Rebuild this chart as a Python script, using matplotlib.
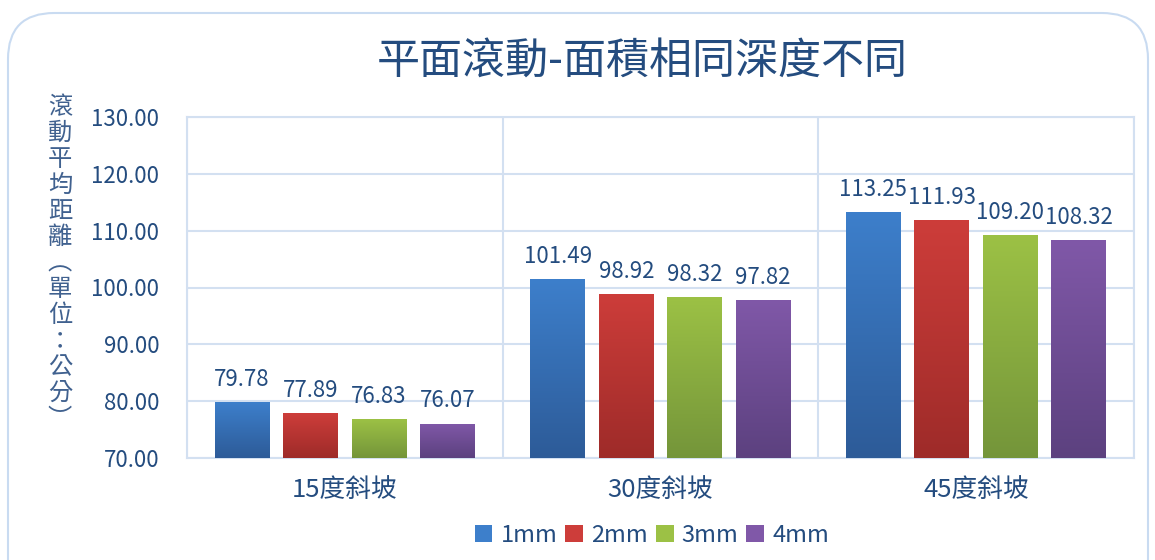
import matplotlib
matplotlib.use("Agg")
import matplotlib.pyplot as plt
import numpy as np
from matplotlib.patches import FancyBboxPatch, Patch
from matplotlib.colors import LinearSegmentedColormap

plt.rcParams['font.family'] = ['Noto Sans CJK TC', 'DejaVu Sans']

title = "平面滾動-面積相同深度不同"
categories = ["15度斜坡", "30度斜坡", "45度斜坡"]
series_names = ["1mm", "2mm", "3mm", "4mm"]
values = {
    "1mm": [79.78, 101.49, 113.25],
    "2mm": [77.89, 98.92, 111.93],
    "3mm": [76.83, 98.32, 109.20],
    "4mm": [76.07, 97.82, 108.32],
}
ylabel_chars = ["滾", "動", "平", "均", "距", "離", "︵", "單", "位", "：", "公", "分", "︶"]
yticks = [70, 80, 90, 100, 110, 120, 130]

top_colors = ["#3D7FCB", "#CD3D3A", "#9CC145", "#8058A8"]
bot_colors = ["#2D5B98", "#9E2B29", "#74953A", "#5C417F"]
text_color = "#244C7F"
grid_color = "#D3E0F1"

fig = plt.figure(figsize=(11.55, 5.6), dpi=100)

# rounded border
border = FancyBboxPatch((8 / 1155, -0.2), (1148 - 8) / 1155, 1 - 13 / 560 + 0.2,
                        boxstyle="round,pad=0,rounding_size=0.04",
                        transform=fig.transFigure, facecolor="none",
                        edgecolor="#C9DBF1", linewidth=1.5, mutation_aspect=2.06,
                        zorder=-1)
fig.patches.append(border)

ax = fig.add_axes([187 / 1155, 1 - 458 / 560, (1134 - 187) / 1155, (458 - 117) / 560])
ax.set_facecolor("none")

n = len(series_names)
step = 0.217
width = 0.174
x = np.arange(len(categories))
for i, name in enumerate(series_names):
    offs = (i - (n - 1) / 2) * step
    bars = ax.bar(x + offs, values[name], width=width, bottom=0, color=top_colors[i],
                  zorder=3, linewidth=0)
    cmap = LinearSegmentedColormap.from_list("g%d" % i, [bot_colors[i], top_colors[i]])
    for b, v in zip(bars, values[name]):
        bx, bw = b.get_x(), b.get_width()
        grad = np.linspace(0, 1, 256).reshape(-1, 1)
        im = ax.imshow(grad, extent=[bx, bx + bw, 70, v], origin="lower", cmap=cmap,
                       aspect="auto", zorder=4)
        im.set_clip_path(b)
        ax.annotate(f"{v:.2f}", (bx + bw / 2, v), xytext=(0, 8), textcoords="offset points",
                    ha="center", va="bottom", fontsize=16, color=text_color, zorder=5)

ax.set_xlim(-0.5, len(categories) - 0.5)
ax.set_ylim(70, 130)
ax.set_yticks(yticks)
ax.set_yticklabels([f"{t:.2f}" for t in yticks], fontsize=16, color=text_color)
ax.set_xticks(x)
ax.set_xticklabels(categories, fontsize=18.5, color=text_color)
ax.tick_params(axis="y", length=0, pad=20)
ax.tick_params(axis="x", length=0, pad=14)
ax.yaxis.grid(True, color=grid_color, linewidth=1.5, zorder=0)
ax.set_axisbelow(True)
for xs in np.arange(-0.5, len(categories) + 0.5, 1.0):
    ax.axvline(xs, color=grid_color, linewidth=1.5, zorder=0)
for s in ax.spines.values():
    s.set_color(grid_color)
    s.set_linewidth(1.5)

fig.text(642 / 1155, 1 - 62 / 560, title, ha="center", va="center",
         fontsize=31, color=text_color)

fig.text(60 / 1155, 1 - 263 / 560, "\n".join(ylabel_chars), ha="center", va="center",
         fontsize=17.5, color="#40618F", linespacing=1.0)

handles = [Patch(facecolor=top_colors[i], edgecolor="none") for i in range(n)]
fig.legend(handles, series_names, loc="center", bbox_to_anchor=(652 / 1155, 1 - 535 / 560),
           ncol=4, frameon=False, fontsize=17, handlelength=0.75, handleheight=0.75,
           handletextpad=0.35, columnspacing=0.33, labelcolor=text_color)

fig.savefig("out.png", dpi=100)
